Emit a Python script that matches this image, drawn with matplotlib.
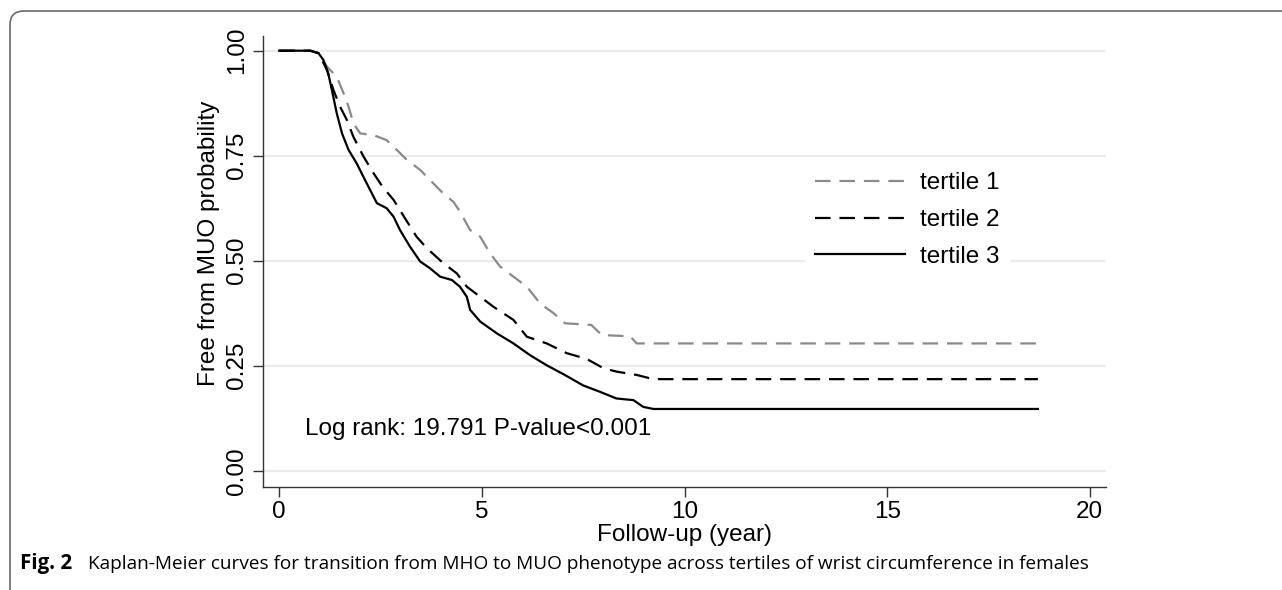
# Kaplan-Meier curves, MHO -> MUO transition by wrist circumference tertile (females)

import matplotlib.pyplot as plt
from matplotlib.patches import FancyBboxPatch

# Data
t1_time = [0, 0.77, 0.97, 1.18, 1.42, 1.59, 1.71, 1.83, 2.00, 2.33, 2.65, 2.90, 3.15, 3.48,
           3.72, 4.05, 4.30, 4.46, 4.71, 4.96, 5.20, 5.45, 5.78, 6.11, 6.44, 6.77, 7.05, 7.70,
           7.96, 8.66, 8.82, 18.72]
t1_surv = [1.0, 1.0, 0.994, 0.962, 0.938, 0.898, 0.867, 0.827, 0.803, 0.799, 0.787, 0.764,
           0.740, 0.716, 0.692, 0.660, 0.640, 0.617, 0.573, 0.557, 0.518, 0.486, 0.462, 0.438,
           0.398, 0.375, 0.351, 0.347, 0.323, 0.320, 0.303, 0.303]

t2_time = [0, 0.77, 0.97, 1.18, 1.34, 1.50, 1.67, 1.83, 2.08, 2.33, 2.55, 2.82, 3.11, 3.39,
           3.64, 4.05, 4.38, 4.63, 4.96, 5.29, 5.78, 6.11, 6.60, 7.09, 7.59, 8.00, 8.32, 8.82,
           9.23, 18.72]
t2_surv = [1.0, 1.0, 0.994, 0.954, 0.906, 0.867, 0.835, 0.795, 0.748, 0.708, 0.676, 0.645,
           0.600, 0.557, 0.530, 0.494, 0.470, 0.438, 0.414, 0.390, 0.359, 0.319, 0.303, 0.280,
           0.266, 0.244, 0.236, 0.228, 0.218, 0.218]

t3_time = [0, 0.77, 0.97, 1.09, 1.21, 1.30, 1.42, 1.55, 1.71, 1.91, 2.16, 2.41, 2.65, 2.82,
           2.98, 3.23, 3.48, 3.72, 3.97, 4.26, 4.46, 4.63, 4.71, 4.96, 5.37, 5.78, 6.19, 6.60,
           7.01, 7.50, 7.91, 8.32, 8.74, 8.98, 9.23, 18.72]
t3_surv = [1.0, 1.0, 0.994, 0.978, 0.946, 0.906, 0.851, 0.803, 0.764, 0.732, 0.684, 0.637,
           0.625, 0.605, 0.573, 0.533, 0.498, 0.482, 0.462, 0.454, 0.438, 0.414, 0.383, 0.355,
           0.327, 0.303, 0.275, 0.251, 0.230, 0.203, 0.188, 0.172, 0.168, 0.152, 0.147, 0.147]

labels = ["tertile 1", "tertile 2", "tertile 3"]
x_ticks = [0, 5, 10, 15, 20]
y_ticks = [0.0, 0.25, 0.50, 0.75, 1.0]
y_ticklabels = ["0.00", "0.25", "0.50", "0.75", "1.00"]
stat_text = "Log rank: 19.791 P-value<0.001"
caption_bold = "Fig. 2"
caption = "Kaplan-Meier curves for transition from MHO to MUO phenotype across tertiles of wrist circumference in females"

W, H = 1282, 590
FS = 17.5
fig = plt.figure(figsize=(W / 100, H / 100), dpi=100)
plt.rcParams["font.family"] = ["Liberation Sans", "DejaVu Sans"]

# Rounded panel frame, drawn in pixel space
bg = fig.add_axes([0, 0, 1, 1])
bg.set_xlim(0, W)
bg.set_ylim(H, 0)
bg.axis("off")
bg.add_patch(FancyBboxPatch((10, 11), 1400, 600, boxstyle="round,pad=0,rounding_size=14",
                            facecolor="none", edgecolor="#6a6a6a", linewidth=1.2))

ax = fig.add_axes([263 / W, (H - 487) / H, (1106 - 263) / W, (487 - 36) / H])
ax.set_xlim(-0.4, 20.4)
ax.set_ylim((470.7 - 487) / 420, (470.7 - 36) / 420)

for y in y_ticks:
    ax.axhline(y, color="#ebebeb", linewidth=1.6, zorder=0)

dash = (7, 4)
ax.plot(t1_time, t1_surv, color="#8a8a8a", linewidth=1.6, dashes=dash, label=labels[0])
ax.plot(t2_time, t2_surv, color="black", linewidth=1.6, dashes=dash, label=labels[1])
ax.plot(t3_time, t3_surv, color="black", linewidth=1.6, label=labels[2])

for s in ["top", "right"]:
    ax.spines[s].set_visible(False)
for s in ["left", "bottom"]:
    ax.spines[s].set_color("#333333")
    ax.spines[s].set_linewidth(1.0)

ax.set_xticks(x_ticks)
ax.set_yticks(y_ticks)
ax.set_yticklabels(y_ticklabels, rotation=90, va="center")
ax.tick_params(axis="both", length=7, width=1.0, color="#333333", labelsize=FS)
ax.tick_params(axis="x", pad=3)
ax.tick_params(axis="y", pad=4)

ax.set_xlabel("Follow-up (year)", fontsize=FS, labelpad=1)
ax.set_ylabel("Free from MUO probability", fontsize=FS)
ax.yaxis.set_label_coords(-0.051, 0.54)

ax.text(0.64, 0.10, stat_text, fontsize=FS, va="center", ha="left")

leg = ax.legend(loc="center", bbox_to_anchor=(907 / W, 1 - 220 / H),
                bbox_transform=fig.transFigure, frameon=True, fontsize=FS,
                handlelength=3.7, handletextpad=0.6, labelspacing=0.6,
                borderpad=0.4, borderaxespad=0)
leg.get_frame().set_edgecolor("white")
leg.get_frame().set_facecolor("white")
leg.get_frame().set_alpha(1)
leg.get_frame().set_boxstyle("square", pad=0)

# Caption
fig.text(20 / W, 1 - 564 / H, caption_bold, fontsize=14.8, fontweight="bold",
         family=["Open Sans", "DejaVu Sans"], va="center", ha="left")
fig.text(88 / W, 1 - 564 / H, caption, fontsize=13.7,
         family=["Open Sans", "DejaVu Sans"], va="center", ha="left")

fig.savefig("out.png", dpi=100)
